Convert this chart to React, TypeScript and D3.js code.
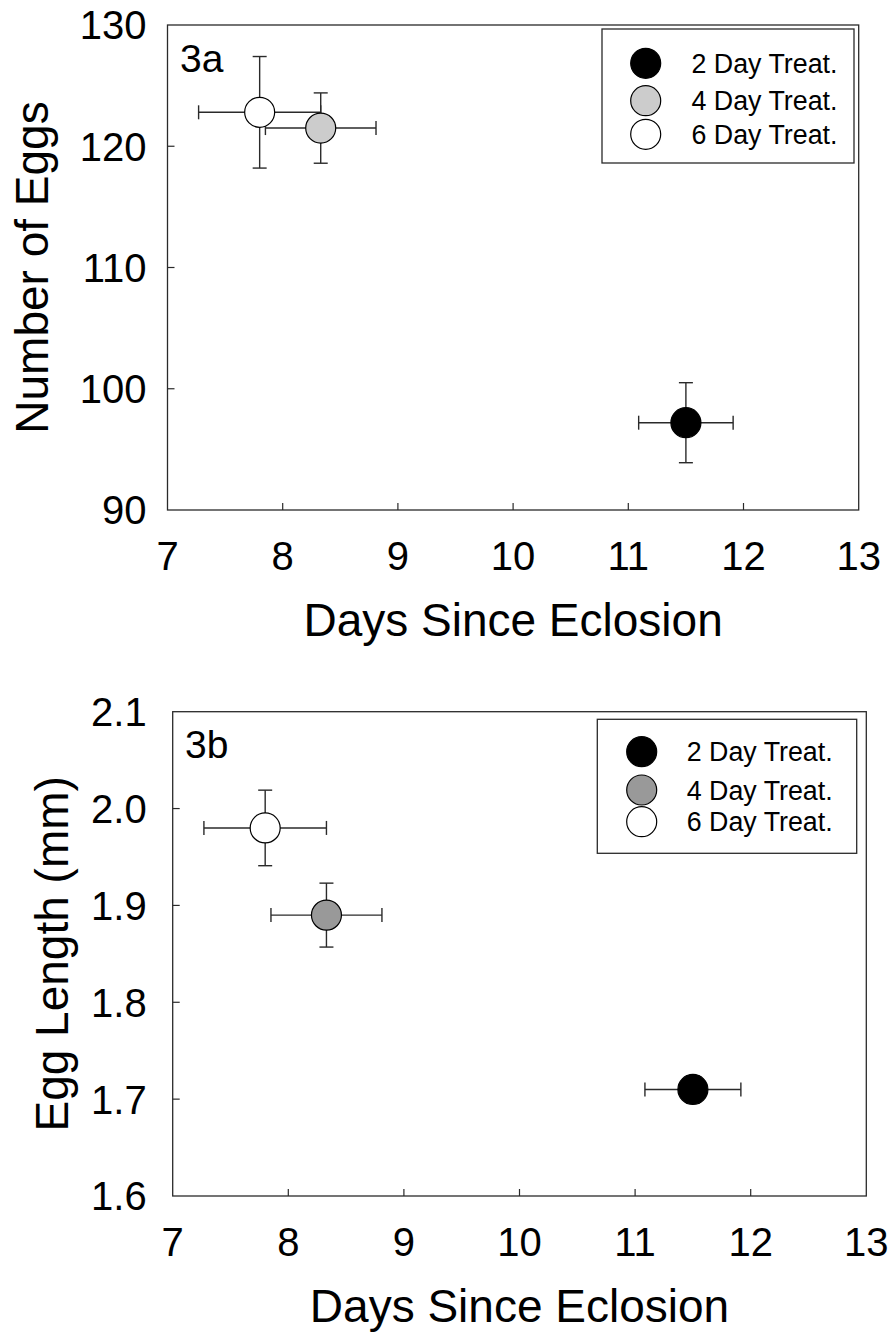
import React from "react";
import * as d3 from "d3";

// ---------- data ----------
const treatments = ["2 Day Treat.", "4 Day Treat.", "6 Day Treat."];
const xTickValues = [7, 8, 9, 10, 11, 12, 13];

// Panel 3a
const daysA = [11.5, 8.33, 7.8];
const daysErrA = [0.41, 0.48, 0.53];
const eggs = [97.2, 121.5, 122.8];
const eggsErr = [3.3, 2.9, 4.6];
const eggTicks = [90, 100, 110, 120, 130];

// Panel 3b
const daysB = [11.5, 8.33, 7.8];
const daysErrB = [0.415, 0.48, 0.53];
const eggLength = [1.71, 1.89, 1.98];
const eggLengthErr = [0.014, 0.033, 0.039];
const lengthTicks = [1.6, 1.7, 1.8, 1.9, 2.0, 2.1];

const fillsA = ["#000000", "#cccccc", "#ffffff"];
const fillsB = ["#000000", "#999999", "#ffffff"];

const FONT = "'Liberation Sans', Arial, Helvetica, sans-serif";
const LINE = "#2a2a2a";

type PanelProps = {
  left: number; right: number; top: number; bottom: number;
  xDomain: [number, number]; yDomain: [number, number];
  yTicks: number[]; yFmt: (v: number) => string; yLabelGap: number;
  xs: number[]; xErr: number[]; ys: number[]; yErr: number[];
  fills: string[];
  tag: string; tagX: number; tagY: number;
  legend: { x0: number; y0: number; x1: number; y1: number; mx: number; tx: number; rows: number[] };
  yTitle: string; yTitleX: number;
};

function Panel(p: PanelProps) {
  const x = d3.scaleLinear().domain(p.xDomain).range([p.left, p.right]);
  const y = d3.scaleLinear().domain(p.yDomain).range([p.bottom, p.top]);
  const r = 15;
  const cap = 7;
  const tick = 7;
  const midY = (p.top + p.bottom) / 2;
  const midX = (p.left + p.right) / 2;
  return (
    <g fontFamily={FONT}>
      {/* frame */}
      <rect x={p.left} y={p.top} width={p.right - p.left} height={p.bottom - p.top}
        fill="none" stroke={LINE} strokeWidth={1.3} />
      {/* x ticks */}
      {xTickValues.map((t) => (
        <g key={"xt" + t}>
          {t > p.xDomain[0] && t < p.xDomain[1] && (
            <line x1={x(t)} x2={x(t)} y1={p.bottom} y2={p.bottom - tick} stroke={LINE} strokeWidth={1.2} />
          )}
          <text x={x(t)} y={p.bottom + 60} fontSize={40} textAnchor="middle" fill="#000">{t}</text>
        </g>
      ))}
      {/* y ticks */}
      {p.yTicks.map((t) => (
        <g key={"yt" + t}>
          {t > p.yDomain[0] && t < p.yDomain[1] && (
            <line x1={p.left} x2={p.left + tick} y1={y(t)} y2={y(t)} stroke={LINE} strokeWidth={1.2} />
          )}
          <text x={p.left - p.yLabelGap} y={y(t)} dy="0.36em" fontSize={40} textAnchor="end" fill="#000">{p.yFmt(t)}</text>
        </g>
      ))}
      {/* axis titles */}
      <text x={midX} y={p.bottom + 126} fontSize={46} textAnchor="middle" fill="#000">Days Since Eclosion</text>
      <text transform={`translate(${p.yTitleX},${midY}) rotate(-90)`} fontSize={46} textAnchor="middle" fill="#000">{p.yTitle}</text>
      {/* panel tag */}
      <text x={p.tagX} y={p.tagY} fontSize={39} fill="#000">{p.tag}</text>
      {/* error bars */}
      {p.xs.map((xv, i) => {
        const cx = x(xv), cy = y(p.ys[i]);
        const xl = x(xv - p.xErr[i]), xr = x(xv + p.xErr[i]);
        const yt = y(p.ys[i] + p.yErr[i]), yb = y(p.ys[i] - p.yErr[i]);
        return (
          <g key={"eb" + i} stroke={LINE} strokeWidth={1.4}>
            <line x1={xl} x2={xr} y1={cy} y2={cy} />
            <line x1={xl} x2={xl} y1={cy - cap} y2={cy + cap} />
            <line x1={xr} x2={xr} y1={cy - cap} y2={cy + cap} />
            <line x1={cx} x2={cx} y1={yt} y2={yb} />
            <line x1={cx - cap} x2={cx + cap} y1={yt} y2={yt} />
            <line x1={cx - cap} x2={cx + cap} y1={yb} y2={yb} />
          </g>
        );
      })}
      {/* markers */}
      {p.xs.map((xv, i) => (
        <circle key={"m" + i} cx={x(xv)} cy={y(p.ys[i])} r={r} fill={p.fills[i]} stroke="#000" strokeWidth={1.2} />
      ))}
      {/* legend */}
      <rect x={p.legend.x0} y={p.legend.y0} width={p.legend.x1 - p.legend.x0} height={p.legend.y1 - p.legend.y0}
        fill="#fff" stroke={LINE} strokeWidth={1.3} />
      {treatments.map((name, i) => (
        <g key={"lg" + i}>
          <circle cx={p.legend.mx} cy={p.legend.rows[i]} r={r} fill={p.fills[i]} stroke="#000" strokeWidth={1.2} />
          <text x={p.legend.tx} y={p.legend.rows[i]} dy="0.36em" fontSize={26.8} fill="#000">{name}</text>
        </g>
      ))}
    </g>
  );
}

export default function App() {
  return (
    <svg width={892} height={1332} style={{ position: "absolute", left: 0, top: 0, background: "#fff" }}>
      <rect x={0} y={0} width={892} height={1332} fill="#fff" />
      <Panel
        left={167.5} right={858.7} top={25} bottom={510}
        xDomain={[7, 13]} yDomain={[90, 130]}
        yTicks={eggTicks} yFmt={(v) => String(v)} yLabelGap={21}
        xs={daysA} xErr={daysErrA} ys={eggs} yErr={eggsErr}
        fills={fillsA}
        tag="3a" tagX={180} tagY={72}
        legend={{ x0: 602, y0: 29, x1: 854, y1: 163, mx: 645.7, tx: 691.5, rows: [63.3, 100.7, 134.3] }}
        yTitle="Number of Eggs" yTitleX={48}
      />
      <Panel
        left={172.7} right={866.3} top={711.7} bottom={1196}
        xDomain={[7, 13]} yDomain={[1.6, 2.1]}
        yTicks={lengthTicks} yFmt={(v) => v.toFixed(1)} yLabelGap={26}
        xs={daysB} xErr={daysErrB} ys={eggLength} yErr={eggLengthErr}
        fills={fillsB}
        tag="3b" tagX={185} tagY={758}
        legend={{ x0: 597.3, y0: 719.3, x1: 856.7, y1: 853.3, mx: 641.7, tx: 686.7, rows: [751.7, 790, 821.7] }}
        yTitle="Egg Length (mm)" yTitleX={68}
      />
    </svg>
  );
}
